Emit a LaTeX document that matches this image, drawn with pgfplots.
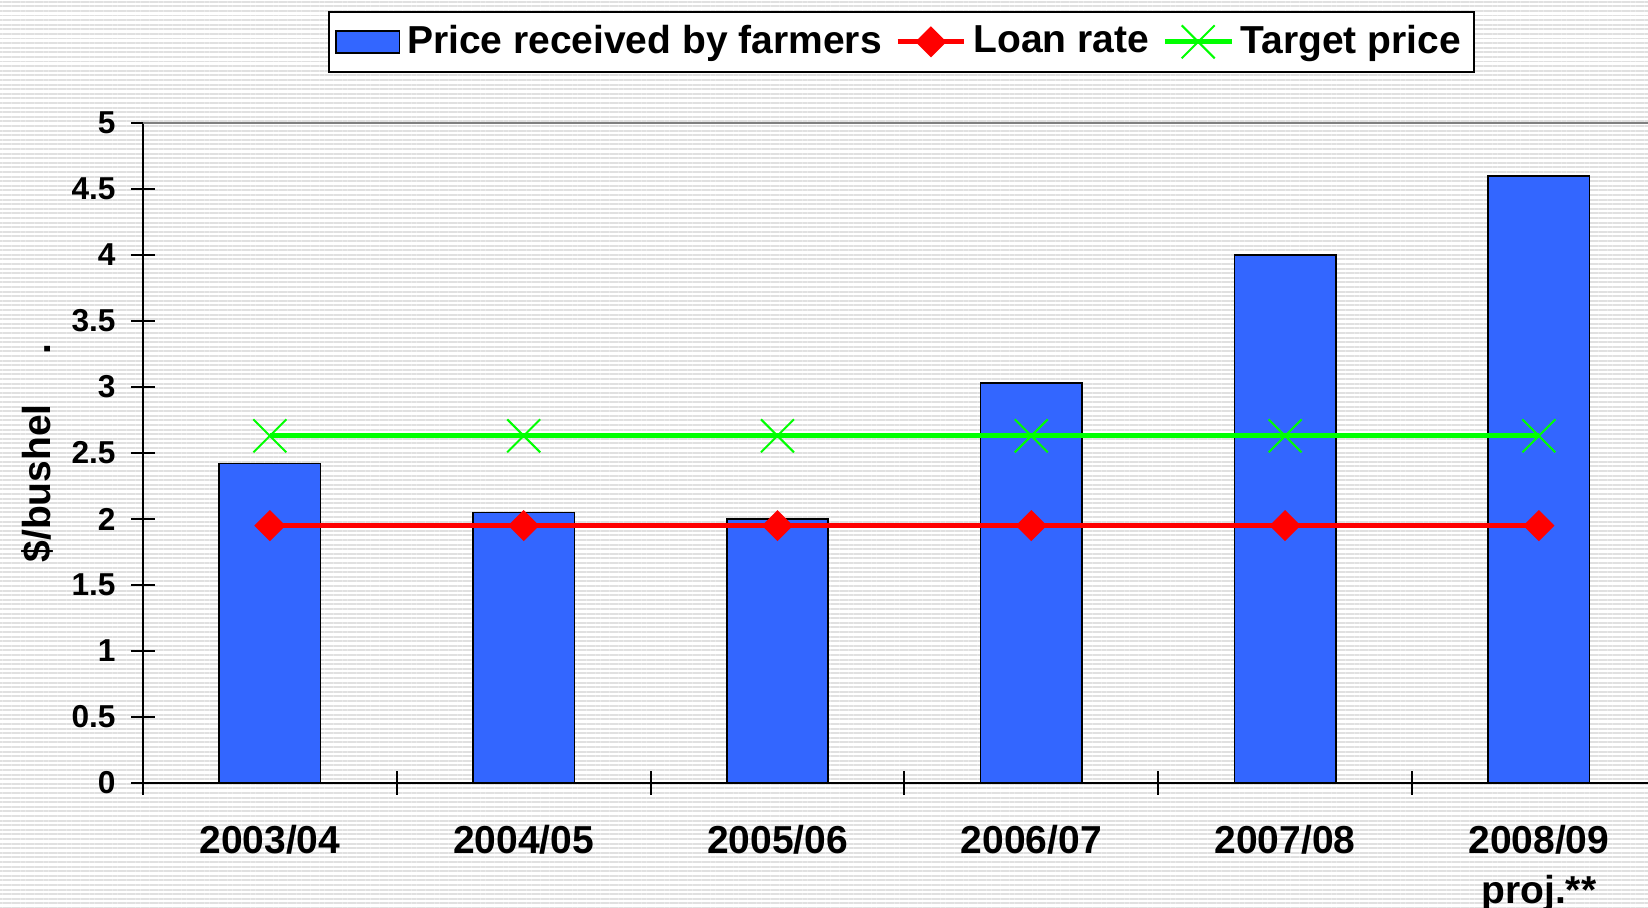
\documentclass[border=0pt]{standalone}
\usepackage{pgfplots}
\pgfplotsset{compat=1.18}
\usepackage{fontspec}
\setmainfont{Liberation Sans}
\usetikzlibrary{patterns.meta}

\definecolor{barblue}{HTML}{3366FF}
\definecolor{loanred}{HTML}{FF0000}
\definecolor{targetgreen}{HTML}{00FF00}

\pgfplotsset{
  barlegend/.style={legend image code/.code={\draw[##1] (0pt,-3.3pt) rectangle (19pt,3.3pt);}},
  linelegend/.style={legend image code/.code={\draw[mark repeat=2,mark phase=2,##1] plot coordinates {(0pt,0pt) (10pt,0pt) (20pt,0pt)};}},
}

\pgfplotstableread{
x price loan target
0 2.42 1.95 2.63
1 2.05 1.95 2.63
2 2.00 1.95 2.63
3 3.03 1.95 2.63
4 4.00 1.95 2.63
5 4.60 1.95 2.63
}\corndata

\begin{document}
\begin{tikzpicture}
\useasboundingbox (0,0) rectangle (494.4pt,272.4pt);
\fill[white] (0,0) rectangle (494.4pt,272.4pt);
\fill[pattern={Lines[angle=0,distance=1.38pt,line width=0.55pt]}, pattern color=black!12]
  (0,0) rectangle (494.4pt,272.4pt);
\begin{axis}[
    at={(42.9pt,37.5pt)}, anchor=south west,
    scale only axis, width=451.5pt, height=198pt,
    xmin=-0.5, xmax=5.43, ymin=0, ymax=5,
    axis lines=left,
    axis line style={-, line width=0.6pt},
    tick align=center,
    major tick length=7pt,
    tick style={black, line width=0.6pt},
    ytick={0,0.5,...,5},
    /pgf/number format/assume math mode=true,
    yticklabel style={font=\bfseries\fontsize{9.5}{10}\selectfont, xshift=-1.2pt},
    xtick={-0.5,0.5,...,4.5},
    xticklabels={},
    extra x ticks={0,1,2,3,4,5},
    extra x tick labels={2003/04,2004/05,2005/06,2006/07,2007/08,{2008/09\\proj.**}},
    extra x tick style={major tick length=0pt},
    xticklabel style={font=\bfseries\fontsize{11.7}{15}\selectfont, align=center, yshift=-9pt},
    extra y ticks={5},
    extra y tick labels={},
    extra y tick style={grid=major, major tick length=0pt},
    major grid style={gray, line width=0.6pt},
    ylabel={\$/bushel\hspace{15pt}.},
    ylabel style={font=\bfseries\fontsize{11.7}{13}\selectfont,
      at={(axis description cs:-0.0704,0.5)}, anchor=center},
    legend columns=3,
    legend style={at={(0.504,1.123)}, anchor=center, draw=black, line width=0.6pt,
      font=\bfseries\fontsize{11.7}{13}\selectfont, inner sep=2pt,
      /tikz/every even column/.append style={column sep=2pt}},
]
\addplot[ybar, bar width=0.4, fill=barblue, draw=black, line width=0.5pt, barlegend]
  table[x=x, y=price] {\corndata};
\addlegendentry{Price received by farmers}
\addplot[loanred, line width=1.5pt, mark=square*, mark size=2.55pt,
  mark options={rotate=45}, linelegend]
  table[x=x, y=loan] {\corndata};
\addlegendentry{Loan rate}
\addplot[targetgreen, line width=1.5pt, mark=x, mark size=7pt,
  mark options={line width=0.6pt}, linelegend]
  table[x=x, y=target] {\corndata};
\addlegendentry{Target price}
\end{axis}
\end{tikzpicture}
\end{document}
